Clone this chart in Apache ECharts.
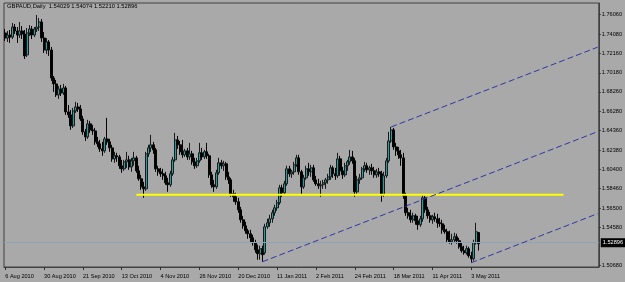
<!DOCTYPE html>
<html><head><meta charset="utf-8">
<script src="https://cdn.jsdelivr.net/npm/echarts@6/dist/echarts.min.js"></script>
<style>html,body{margin:0;padding:0;background:#a9a9a9}#c{width:625px;height:282px}</style>
</head><body><div id="c"></div>
<script>
const symbolName = 'GBPAUD,Daily';
const openP = [
1.7421,1.7370,1.7400,1.7380,1.7481,1.7441,1.7400,1.7441,1.7411,1.7199,
1.7421,1.7461,1.7400,1.7461,1.7481,1.7532,1.7370,1.7249,1.7330,1.7249,
1.6966,1.6906,1.6795,1.6855,1.6815,1.6865,1.6623,1.6593,1.6481,1.6633,
1.6673,1.6653,1.6552,1.6421,1.6370,1.6502,1.6441,1.6431,1.6320,1.6300,
1.6249,1.6229,1.6350,1.6320,1.6259,1.6148,1.6179,1.6168,1.6078,1.6047,
1.6118,1.6138,1.6067,1.6128,1.6158,1.6027,1.5946,1.5865,1.5845,1.6199,
1.6259,1.6290,1.6239,1.6047,1.6017,1.5997,1.5977,1.5906,1.5886,1.5997,
1.6138,1.6340,1.6290,1.6219,1.6189,1.6229,1.6168,1.6199,1.6118,1.6078,
1.6128,1.6209,1.6168,1.6219,1.6179,1.5987,1.5886,1.5865,1.6007,1.6108,
1.6078,1.6098,1.5966,1.5936,1.5795,1.5764,1.5714,1.5633,1.5532,1.5471,
1.5421,1.5391,1.5350,1.5300,1.5229,1.5189,1.5239,1.5199,1.5461,1.5502,
1.5542,1.5603,1.5653,1.5704,1.5855,1.5805,1.5896,1.6047,1.5997,1.6017,
1.6088,1.6158,1.6017,1.5865,1.5956,1.6047,1.6017,1.6057,1.5936,1.5896,
1.5876,1.5886,1.5906,1.5936,1.5966,1.6057,1.5997,1.5977,1.6148,1.6027,
1.5987,1.6078,1.6118,1.6168,1.6128,1.5815,1.5936,1.5956,1.6047,1.6078,
1.6037,1.6057,1.6027,1.5987,1.6017,1.5997,1.5785,1.5977,1.6128,1.6330,
1.6441,1.6269,1.6229,1.6189,1.6158,1.5775,1.5603,1.5572,1.5532,1.5572,
1.5522,1.5482,1.5542,1.5754,1.5633,1.5572,1.5532,1.5562,1.5542,1.5502,
1.5492,1.5431,1.5411,1.5330,1.5310,1.5330,1.5360,1.5320,1.5259,1.5219,
1.5199,1.5239,1.5169,1.5138,1.5300,1.54029];
const highP = [
1.7461,1.7441,1.7451,1.7522,1.7512,1.7481,1.7532,1.7491,1.7451,1.7471,
1.7501,1.7491,1.7481,1.7603,1.7572,1.7562,1.7431,1.7370,1.7350,1.7279,
1.6986,1.6946,1.6885,1.6896,1.6906,1.6885,1.6693,1.6643,1.6663,1.6724,
1.6714,1.6693,1.6583,1.6451,1.6542,1.6532,1.6492,1.6461,1.6370,1.6340,
1.6320,1.6370,1.6562,1.6350,1.6290,1.6219,1.6209,1.6189,1.6138,1.6138,
1.6219,1.6179,1.6158,1.6219,1.6179,1.6078,1.5987,1.5916,1.6219,1.6290,
1.6391,1.6320,1.6259,1.6078,1.6057,1.6047,1.6017,1.5956,1.6027,1.6168,
1.6411,1.6380,1.6330,1.6340,1.6249,1.6259,1.6310,1.6229,1.6158,1.6158,
1.6310,1.6259,1.6239,1.6310,1.6199,1.6017,1.5936,1.6037,1.6158,1.6138,
1.6128,1.6118,1.6017,1.5956,1.5835,1.5805,1.5754,1.5663,1.5572,1.5512,
1.5441,1.5431,1.5381,1.5330,1.5280,1.5270,1.5270,1.5492,1.5542,1.5582,
1.5633,1.5684,1.5734,1.5886,1.5886,1.5926,1.6078,1.6078,1.6037,1.6118,
1.6189,1.6189,1.6037,1.5987,1.6078,1.6108,1.6088,1.6088,1.5977,1.5946,
1.5926,1.5936,1.5956,1.5997,1.6088,1.6078,1.6057,1.6209,1.6179,1.6067,
1.6108,1.6138,1.6239,1.6229,1.6158,1.5977,1.5997,1.6067,1.6118,1.6108,
1.6078,1.6098,1.6067,1.6047,1.6057,1.6027,1.6017,1.6158,1.6421,1.6471,
1.6461,1.6310,1.6269,1.6239,1.6209,1.5805,1.5653,1.5633,1.5603,1.5593,
1.5572,1.5572,1.5785,1.5775,1.5663,1.5613,1.5582,1.5603,1.5593,1.5552,
1.5532,1.5482,1.5441,1.5421,1.5391,1.5401,1.5391,1.5350,1.5300,1.5270,
1.5270,1.5259,1.5209,1.5330,1.5502,1.54074];
const lowP = [
1.7340,1.7330,1.7320,1.7360,1.7411,1.7320,1.7370,1.7360,1.7158,1.7178,
1.7390,1.7360,1.7380,1.7431,1.7441,1.7330,1.7219,1.7209,1.7189,1.6936,
1.6825,1.6774,1.6754,1.6784,1.6795,1.6593,1.6562,1.6441,1.6461,1.6613,
1.6623,1.6532,1.6391,1.6330,1.6350,1.6411,1.6391,1.6290,1.6269,1.6219,
1.6179,1.6209,1.6290,1.6219,1.6118,1.6108,1.6118,1.6047,1.6007,1.6027,
1.6057,1.6037,1.6017,1.6078,1.6007,1.5926,1.5835,1.5754,1.5825,1.6168,
1.6219,1.6199,1.6017,1.5977,1.5966,1.5936,1.5886,1.5815,1.5865,1.5977,
1.6118,1.6249,1.6189,1.6158,1.6168,1.6138,1.6138,1.6088,1.6047,1.6057,
1.6108,1.6138,1.6148,1.6148,1.5956,1.5855,1.5815,1.5845,1.5987,1.6047,
1.6027,1.5936,1.5896,1.5764,1.5714,1.5684,1.5603,1.5502,1.5441,1.5391,
1.5340,1.5300,1.5270,1.5199,1.5128,1.5128,1.5108,1.5179,1.5441,1.5461,
1.5502,1.5572,1.5623,1.5684,1.5764,1.5785,1.5876,1.5966,1.5956,1.5987,
1.6067,1.5987,1.5785,1.5845,1.5936,1.5977,1.5966,1.5916,1.5876,1.5845,
1.5764,1.5845,1.5845,1.5896,1.5936,1.5956,1.5936,1.5956,1.5977,1.5946,
1.5966,1.6027,1.6088,1.6098,1.5764,1.5795,1.5896,1.5936,1.6017,1.6007,
1.5987,1.5987,1.5956,1.5956,1.5966,1.5714,1.5764,1.5956,1.6108,1.6310,
1.6239,1.6179,1.6148,1.6078,1.5744,1.5572,1.5542,1.5502,1.5502,1.5482,
1.5431,1.5461,1.5512,1.5603,1.5542,1.5502,1.5492,1.5512,1.5451,1.5461,
1.5391,1.5391,1.5300,1.5290,1.5280,1.5300,1.5290,1.5239,1.5199,1.5179,
1.5179,1.5148,1.5098,1.5118,1.5280,1.52210];
const closeP = [
1.7370,1.7400,1.7380,1.7481,1.7441,1.7400,1.7441,1.7411,1.7189,1.7421,
1.7461,1.7400,1.7461,1.7481,1.7532,1.7370,1.7249,1.7330,1.7249,1.6966,
1.6906,1.6795,1.6855,1.6815,1.6865,1.6623,1.6593,1.6481,1.6633,1.6673,
1.6653,1.6552,1.6421,1.6370,1.6502,1.6441,1.6431,1.6320,1.6300,1.6249,
1.6229,1.6350,1.6320,1.6259,1.6148,1.6179,1.6168,1.6078,1.6047,1.6118,
1.6138,1.6067,1.6128,1.6158,1.6027,1.5946,1.5865,1.5845,1.6199,1.6259,
1.6290,1.6239,1.6047,1.6017,1.5997,1.5977,1.5906,1.5886,1.5997,1.6138,
1.6340,1.6290,1.6219,1.6189,1.6229,1.6168,1.6199,1.6118,1.6078,1.6128,
1.6209,1.6168,1.6219,1.6179,1.5987,1.5886,1.5865,1.6007,1.6108,1.6078,
1.6098,1.5966,1.5936,1.5795,1.5764,1.5714,1.5633,1.5532,1.5471,1.5421,
1.5391,1.5350,1.5300,1.5229,1.5189,1.5239,1.5179,1.5461,1.5502,1.5542,
1.5603,1.5653,1.5704,1.5855,1.5805,1.5896,1.6047,1.5997,1.6017,1.6088,
1.6158,1.6017,1.5865,1.5956,1.6047,1.6017,1.6057,1.5936,1.5896,1.5876,
1.5886,1.5906,1.5936,1.5966,1.6057,1.5997,1.5977,1.6148,1.6027,1.5987,
1.6078,1.6118,1.6168,1.6128,1.5815,1.5936,1.5956,1.6047,1.6078,1.6037,
1.6057,1.6027,1.5987,1.6017,1.5997,1.5785,1.5977,1.6128,1.6330,1.6441,
1.6269,1.6229,1.6189,1.6158,1.5775,1.5603,1.5572,1.5532,1.5572,1.5522,
1.5482,1.5542,1.5754,1.5633,1.5572,1.5532,1.5562,1.5542,1.5502,1.5492,
1.5431,1.5411,1.5330,1.5310,1.5330,1.5360,1.5320,1.5259,1.5219,1.5199,
1.5239,1.5169,1.5138,1.5300,1.5411,1.52896];
const xTickLabels = ['6 Aug 2010','30 Aug 2010','21 Sep 2010','13 Oct 2010','4 Nov 2010','26 Nov 2010','20 Dec 2010','11 Jan 2011','2 Feb 2011','24 Feb 2011','18 Mar 2011','11 Apr 2011','3 May 2011'];
const yTickLabels = [1.76060,1.74080,1.72160,1.70180,1.68260,1.66280,1.64360,1.62380,1.60400,1.58460,1.56500,1.54580,1.50680];
const lastPrice = 1.52896;
const supportLevel = 1.5786;          // yellow horizontal line
const supportSpan = [54, 230];        // bar indices where it starts / ends
const channelTop = [[159, 1.6471], [244, 1.7277]];
const channelMid = [[106, 1.5108], [244, 1.6423]];
const channelBot = [[192, 1.5098], [244, 1.5594]];
const totalSlots = 245;               // bars + empty shift area on the right

// weekday calendar for the category axis
const MONTHS = ['Jan','Feb','Mar','Apr','May','Jun','Jul','Aug','Sep','Oct','Nov','Dec'];
const categories = [];
(function(){ const d = new Date(Date.UTC(2010,7,6));
  while (categories.length < totalSlots) { const w = d.getUTCDay();
    if (w !== 0 && w !== 6) categories.push(d.getUTCDate()+' '+MONTHS[d.getUTCMonth()]+' '+d.getUTCFullYear());
    d.setUTCDate(d.getUTCDate()+1); } })();

const candles = openP.map((o,i)=>[o, closeP[i], lowP[i], highP[i]]);
const n = openP.length;
const header = symbolName + '  ' + [openP[n-1],highP[n-1],lowP[n-1],closeP[n-1]].map(v=>v.toFixed(5)).join(' ');
const seg = pts => pts.map(p=>[categories[p[0]], p[1]]);
const FONT = 'Liberation Sans, Arial, sans-serif';
const chart = echarts.init(document.getElementById('c'), null, {renderer:'canvas'});
const dash = {color:'#3434a6', width:1, type:[6,3]};
chart.setOption({
  animation:false,
  backgroundColor:'#a9a9a9',
  title:{text:header, left:7, top:3, padding:0, textStyle:{fontSize:5.8, fontWeight:'normal', color:'#000', fontFamily:FONT}},
  grid:{left:4, right:23, top:3, bottom:15, show:true, borderColor:'#404040', borderWidth:1, backgroundColor:'transparent'},
  xAxis:{type:'category', data:categories, boundaryGap:true,
    axisLine:{show:true, lineStyle:{color:'#404040'}},
    axisTick:{show:true, alignWithLabel:true, length:3, interval:(i,v)=>xTickLabels.includes(v), lineStyle:{color:'#303030'}},
    axisLabel:{interval:(i,v)=>xTickLabels.includes(v), align:'left', margin:6, fontSize:5.6, color:'#000', fontFamily:FONT},
    splitLine:{show:false}},
  yAxis:{type:'value', position:'right', min:1.50546, max:1.7724, scale:true,
    axisLine:{show:true, lineStyle:{color:'#404040'}},
    axisTick:{show:true, length:2, customValues:yTickLabels, lineStyle:{color:'#303030'}},
    axisLabel:{customValues:yTickLabels, formatter:v=>v.toFixed(5), margin:3, fontSize:5.6, color:'#000', fontFamily:FONT},
    splitLine:{show:false}},
  series:[
    {type:'candlestick', data:candles, barWidth:2.5,
      itemStyle:{color:'#23a0a0', color0:'#000000', borderColor:'#1a1a1a', borderColor0:'#050505', borderWidth:1},
      markLine:{silent:true, symbol:['none','none'], animation:false,
        data:[{yAxis:lastPrice}],
        lineStyle:{color:'#8ea3b6', width:1, type:'solid'},
        label:{show:true, position:'end', distance:2, formatter:lastPrice.toFixed(5), color:'#fff', backgroundColor:'#000', padding:[2,3,1,2], fontSize:5.6, fontFamily:FONT}}},
    {type:'line', data:seg([[supportSpan[0],supportLevel],[supportSpan[1],supportLevel]]), symbol:'none', lineStyle:{color:'#ffff00', width:2}, z:5},
    {type:'line', data:seg(channelTop), symbol:'none', lineStyle:dash, z:6},
    {type:'line', data:seg(channelMid), symbol:'none', lineStyle:dash, z:6},
    {type:'line', data:seg(channelBot), symbol:'none', lineStyle:dash, z:6}
  ]
});
</script></body></html>
